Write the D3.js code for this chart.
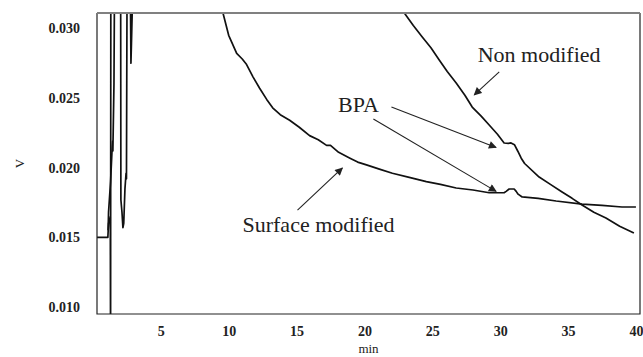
<!DOCTYPE html>
<html>
<head>
<meta charset="utf-8">
<script src="https://cdn.jsdelivr.net/npm/d3@7"></script>
<style>
  html, body { margin: 0; padding: 0; background: #fff; }
  svg { display: block; }
  .tick-label { font-family: "Liberation Serif", "Times New Roman", serif; font-weight: bold; font-size: 14px; fill: #222; }
  .axis-title { font-family: "Liberation Serif", "Times New Roman", serif; font-size: 13px; fill: #222; }
  .note { font-family: "Liberation Serif", "Times New Roman", serif; font-size: 22px; fill: #222; }
</style>
</head>
<body>
<svg id="chart" width="643" height="357"></svg>
<script>
// ── Data ─────────────────────────────────────────────────────────────────────
// [min, V]; values above/below the window are clipped by the plot frame
const surfaceModified = [
  [0.30, 0.0150], [1.10, 0.0150], [1.15, 0.0160], [1.28, 0.0165],
  [1.30, 0.0060], [1.32, 0.0350], [2.04, 0.0350], [2.06, 0.0177],
  [2.14, 0.0168], [2.21, 0.0157], [2.27, 0.0160], [2.36, 0.0185],
  [2.44, 0.0196], [2.47, 0.0192], [2.52, 0.0350], [9.30, 0.0350],
  [9.58, 0.0311], [10.0, 0.0295], [10.59, 0.0282], [11.0, 0.0278],
  [11.32, 0.0274], [11.8, 0.0265], [12.28, 0.0257], [12.8, 0.0249],
  [13.24, 0.0243], [13.8, 0.0238], [14.49, 0.0234], [15.2, 0.0229],
  [15.96, 0.0223], [16.6, 0.0220], [17.21, 0.0216], [17.5, 0.0216],
  [18.1, 0.0211], [18.90, 0.0207], [19.5, 0.0204], [20.15, 0.0202],
  [21.1, 0.0199], [22.06, 0.0196], [23.3, 0.0193], [24.56, 0.0190],
  [25.6, 0.0188], [26.76, 0.01854], [28.0, 0.0184], [29.19, 0.0182],
  [30.29, 0.0182], [30.44, 0.0183], [30.66, 0.01847], [31.03, 0.01847],
  [31.18, 0.0183], [31.32, 0.0181], [31.62, 0.0179], [32.8, 0.0178],
  [34.12, 0.01761], [36.03, 0.01739], [37.5, 0.0173], [38.97, 0.01718],
  [40.0, 0.01718],
];

const nonModified = [
  [1.12, 0.0155], [1.15, 0.0168], [1.30, 0.0190], [1.42, 0.0215],
  [1.45, 0.0219], [1.47, 0.0212], [1.55, 0.0260], [1.60, 0.0350],
  [2.74, 0.0350], [2.80, 0.0275], [2.84, 0.0290], [2.94, 0.0330],
  [3.00, 0.0350], [22.70, 0.0340], [22.94, 0.0311], [23.6, 0.0302],
  [24.26, 0.02938], [24.9, 0.0286], [25.51, 0.02773], [26.1, 0.0269],
  [26.76, 0.02608], [27.4, 0.0252], [27.94, 0.02435], [28.6, 0.0237],
  [29.19, 0.02306], [29.8, 0.0224], [30.29, 0.02177], [30.6, 0.02175],
  [30.8, 0.02178], [31.05, 0.02165], [31.3, 0.02118], [31.55, 0.02068],
  [31.8, 0.0203], [32.87, 0.01933], [33.7, 0.0188], [34.56, 0.01826],
  [35.3, 0.0178], [36.03, 0.01732], [36.9, 0.0168], [37.79, 0.01639],
  [38.8, 0.0158], [39.85, 0.01531],
];

const xTicks = [5, 10, 15, 20, 25, 30, 35, 40];
const yTicks = [0.010, 0.015, 0.020, 0.025, 0.030];

// annotation arrows: [fromMin, fromV, toMin, toV]
const arrows = [
  [15.07, 0.01696, 18.38, 0.01998],
  [29.93, 0.02687, 28.09, 0.02522],
  [21.99, 0.02436, 29.70, 0.02145],
  [20.66, 0.02349, 29.70, 0.01830],
];
// annotation labels: [text, min, V] (text centre, baseline)
const notes = [
  ['Non modified', 32.87, 0.02758],
  ['BPA', 19.56, 0.02400],
  ['Surface modified', 16.62, 0.01538],
];

// ── Layout ───────────────────────────────────────────────────────────────────
const PLOT = { left: 97, right: 640, top: 13, bottom: 314 };

const svg = d3.select('#chart');
const x = d3.scaleLinear().domain([0.3, 40.3]).range([PLOT.left, PLOT.right]);
const y = d3.scaleLinear().domain([0.0095, 0.0311]).range([PLOT.bottom, PLOT.top]);

svg.append('defs').append('clipPath').attr('id', 'plot-clip')
  .append('rect')
  .attr('x', PLOT.left).attr('y', PLOT.top)
  .attr('width', PLOT.right - PLOT.left).attr('height', PLOT.bottom - PLOT.top);

svg.select('defs').append('marker')
  .attr('id', 'arrow-head')
  .attr('viewBox', '0 0 10 10')
  .attr('refX', 9).attr('refY', 5)
  .attr('markerUnits', 'userSpaceOnUse')
  .attr('markerWidth', 9).attr('markerHeight', 8)
  .attr('orient', 'auto')
  .append('path').attr('d', 'M0,0 L10,5 L0,10 Z').attr('fill', '#222');

// ── Axes ─────────────────────────────────────────────────────────────────────
const xAxis = d3.axisBottom(x).tickValues(xTicks).tickSize(0).tickPadding(12).tickFormat(d3.format('d'));
const yAxis = d3.axisLeft(y).tickValues(yTicks).tickSize(0).tickPadding(17).tickFormat(d3.format('.3f'));

const gx = svg.append('g').attr('transform', `translate(0,${PLOT.bottom})`).call(xAxis);
const gy = svg.append('g').attr('transform', `translate(${PLOT.left},0)`).call(yAxis);
[gx, gy].forEach(g => {
  g.select('.domain').remove();
  g.selectAll('text').attr('class', 'tick-label').attr('fill', null);
});
// last x label sits against the window edge: keep it inside
gx.selectAll('.tick').filter(d => d === 40).select('text').attr('text-anchor', 'end').attr('dx', '7');

svg.append('text').attr('class', 'axis-title')
  .attr('x', (PLOT.left + PLOT.right) / 2).attr('y', 353)
  .attr('text-anchor', 'middle').text('min');
svg.append('text').attr('class', 'axis-title')
  .attr('transform', `translate(24,${(PLOT.top + PLOT.bottom) / 2}) rotate(-90)`)
  .attr('text-anchor', 'middle').text('V');

// ── Traces ───────────────────────────────────────────────────────────────────
const line = d3.line().x(d => x(d[0])).y(d => y(d[1]));
const traces = svg.append('g').attr('clip-path', 'url(#plot-clip)');
[surfaceModified, nonModified].forEach(series => {
  traces.append('path')
    .attr('d', line(series))
    .attr('fill', 'none')
    .attr('stroke', '#111')
    .attr('stroke-width', 1.7)
    .attr('stroke-linejoin', 'round');
});

// ── Frame ────────────────────────────────────────────────────────────────────
svg.append('path')
  .attr('d', `M${PLOT.left},${PLOT.top} V${PLOT.bottom} H${PLOT.right} V${PLOT.top}`)
  .attr('fill', 'none').attr('stroke', '#222').attr('stroke-width', 1.2);
svg.append('line')
  .attr('x1', PLOT.left).attr('x2', PLOT.right)
  .attr('y1', PLOT.top).attr('y2', PLOT.top)
  .attr('stroke', '#808080').attr('stroke-width', 2);

// ── Annotations ──────────────────────────────────────────────────────────────
svg.append('g').selectAll('line').data(arrows).join('line')
  .attr('x1', d => x(d[0])).attr('y1', d => y(d[1]))
  .attr('x2', d => x(d[2])).attr('y2', d => y(d[3]))
  .attr('stroke', '#222').attr('stroke-width', 1.1)
  .attr('marker-end', 'url(#arrow-head)');

svg.append('g').selectAll('text').data(notes).join('text')
  .attr('class', 'note')
  .attr('x', d => x(d[1])).attr('y', d => y(d[2]))
  .attr('text-anchor', 'middle')
  .text(d => d[0]);
</script>
</body>
</html>
